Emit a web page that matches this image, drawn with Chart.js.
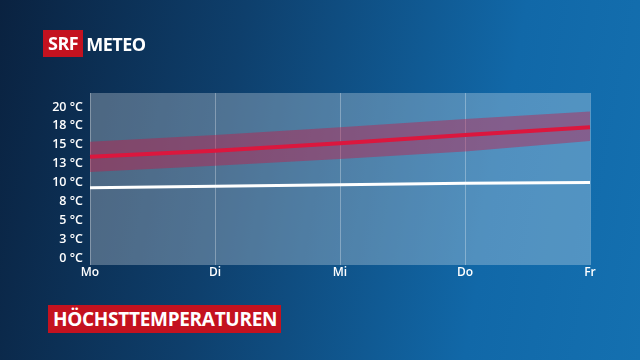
<!DOCTYPE html>
<html>
<head>
<meta charset="utf-8">
<script src="https://cdn.jsdelivr.net/npm/chart.js@4"></script>
<style>
  html, body { margin: 0; padding: 0; }
  body {
    width: 640px; height: 360px; overflow: hidden; position: relative;
    background: linear-gradient(100deg, #0a2240 0%, #0e3f6c 35%, #1168a8 75%, #1470b0 100%);
    font-family: "Open Sans", sans-serif;
  }
  #wrap { position: absolute; left: 0; top: 0; width: 640px; height: 360px; }
  .logo { position: absolute; left: 43px; top: 30px; height: 27px; display: flex; align-items: center; }
  .srf { background: #c4121f; color: #fff; font-weight: 700; font-size: 18px; height: 27px; line-height: 27px; padding: 0 5px; letter-spacing: -0.5px; }
  .meteo { color: #fff; font-weight: 700; font-size: 18px; margin-left: 3px; letter-spacing: -0.5px; }
  .title { position: absolute; left: 48px; top: 305px; height: 28px; line-height: 28px; background: #c4121f; color: #fff; font-weight: 700; font-size: 19px; padding: 0 4px 0 5px; letter-spacing: -0.3px; }
</style>
</head>
<body>
<div id="wrap"><canvas id="myChart" width="640" height="360"></canvas></div>
<div class="logo"><span class="srf">SRF</span><span class="meteo">METEO</span></div>
<div class="title">HÖCHSTTEMPERATUREN</div>
<script>
const days = ["Mo", "Di", "Mi", "Do", "Fr"];
const maxTemp = [13.4, 14.2, 15.2, 16.3, 17.3];
const maxUpper = [15.4, 16.3, 17.3, 18.4, 19.4];
const maxLower = [11.4, 12.2, 13.1, 14.1, 15.5];
const avgTemp = [9.3, 9.5, 9.7, 9.9, 10.0];
const yTicks = [0, 2.5, 5, 7.5, 10, 12.5, 15, 17.5, 20];

const RedColor = "#e8173a";
const BandColor = "rgba(200, 25, 70, 0.42)";

const plotBg = {
  id: "plotBg",
  beforeDraw(chart) {
    const { ctx, chartArea: a } = chart;
    ctx.save();
    ctx.fillStyle = "rgba(255,255,255,0.27)";
    ctx.fillRect(a.left, a.top, a.right - a.left, a.bottom - a.top);
    ctx.restore();
  },
};

const ctx = document.getElementById("myChart").getContext("2d");
const myChart = new Chart(ctx, {
  type: "line",
  data: {
    labels: days,
    datasets: [
      {
        label: "oben",
        data: maxUpper,
        borderWidth: 0,
        pointRadius: 0,
        backgroundColor: BandColor,
        fill: "+1",
      },
      {
        label: "unten",
        data: maxLower,
        borderWidth: 0,
        pointRadius: 0,
        fill: false,
      },
      {
        label: "Höchsttemperatur",
        data: maxTemp,
        borderColor: RedColor,
        borderWidth: 4,
        pointRadius: 0,
        fill: false,
      },
      {
        label: "Mittel",
        data: avgTemp,
        borderColor: "#ffffff",
        borderWidth: 3,
        pointRadius: 0,
        fill: false,
      },
    ],
  },
  options: {
    responsive: false,
    animation: false,
    layout: { padding: { left: 0, right: 50, top: 93, bottom: 0 } },
    plugins: { legend: { display: false }, tooltip: { enabled: false } },
    scales: {
      x: {
        offset: false,
        grid: { color: "rgba(255,255,255,0.3)", drawTicks: false },
        border: { display: false },
        ticks: {
          color: "#ffffff",
          font: { family: "Open Sans", size: 12, weight: "600" },
          padding: 0,
          maxRotation: 0,
          autoSkip: false,
        },
        afterFit(scale) { scale.height = 95; },
      },
      y: {
        min: -0.93,
        max: 21.85,
        grid: { display: false, drawTicks: false },
        border: { display: false },
        afterBuildTicks(scale) {
          scale.ticks = yTicks.map((v) => ({ value: v }));
        },
        ticks: {
          color: "#ffffff",
          font: { family: "Open Sans", size: 12.5, weight: "600" },
          padding: 7,
          callback: (v) => Math.round(v) + " °C",
        },
        afterFit(scale) { scale.width = 90; },
      },
    },
  },
  plugins: [plotBg],
});
</script>
</body>
</html>
